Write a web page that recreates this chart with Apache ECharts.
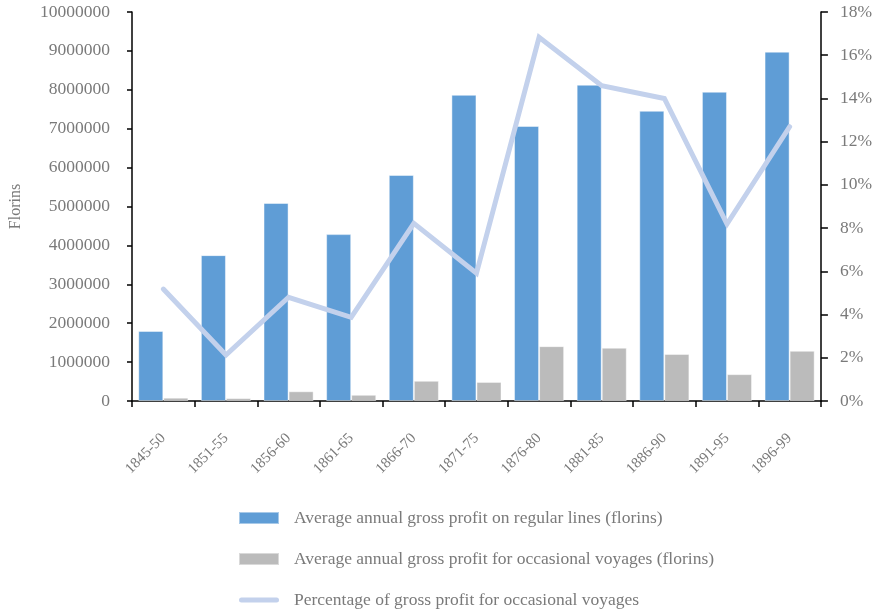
<!DOCTYPE html>
<html>
<head>
<meta charset="utf-8">
<script src="https://cdn.jsdelivr.net/npm/echarts@6/dist/echarts.min.js"></script>
<style>
  html, body { margin: 0; padding: 0; background: #fff; }
  #chart { width: 875px; height: 612px; }
</style>
</head>
<body>
<div id="chart"></div>
<script>
// Periods (five-year spans)
const periods = ['1845-50', '1851-55', '1856-60', '1861-65', '1866-70', '1871-75',
                 '1876-80', '1881-85', '1886-90', '1891-95', '1896-99'];

// Average annual gross profit on regular lines (florins)
const regularProfit = [1800000, 3750000, 5090000, 4290000, 5810000, 7870000,
                       7070000, 8130000, 7460000, 7950000, 8980000];

// Average annual gross profit for occasional voyages (florins)
const occasionalProfit = [85000, 75000, 250000, 160000, 520000, 490000,
                          1410000, 1370000, 1210000, 690000, 1290000];

// Share of gross profit from occasional voyages (%)
const occasionalShare = [5.18, 2.13, 4.80, 3.87, 8.22, 5.91,
                         16.83, 14.59, 14.00, 8.19, 12.69];

const leftTicks = { min: 0, max: 10000000, interval: 1000000 };
const rightTicks = { min: 0, max: 18, interval: 2 };

const FONT = '"Liberation Serif", serif';
const TEXT = '#7a7a7a';
const LINE_COLOR = '#c3d1ec';

// rounded stroke used as the legend key of the line series
const LINE_KEY = 'path://M2.5,0 L37.5,0 A2.5,2.5 0 0 1 37.5,5 L2.5,5 A2.5,2.5 0 0 1 2.5,0 Z';

const chart = echarts.init(document.getElementById('chart'), null, { renderer: 'canvas' });

chart.setOption({
  animation: false,
  backgroundColor: '#fff',
  textStyle: { fontFamily: FONT, color: TEXT },
  grid: { left: 130, right: 54, top: 12, bottom: 211, containLabel: false },
  legend: {
    type: 'plain',
    orient: 'vertical',
    left: 238,
    top: 509,
    padding: 0,
    itemWidth: 40,
    itemHeight: 12,
    itemGap: 23,
    symbolKeepAspect: true,
    textStyle: { fontFamily: FONT, fontSize: 17.5, color: TEXT, padding: [0, 0, 0, 10] },
    data: [
      { name: 'Average annual gross profit on regular lines (florins)', icon: 'rect' },
      { name: 'Average annual gross profit for occasional voyages (florins)', icon: 'rect' },
      {
        name: 'Percentage of gross profit for occasional voyages',
        icon: LINE_KEY,
        itemStyle: { color: LINE_COLOR }
      }
    ]
  },
  xAxis: {
    type: 'category',
    data: periods,
    axisLine: { lineStyle: { color: '#000', width: 1.5 } },
    axisTick: { show: true, length: 6, lineStyle: { color: '#000', width: 1.5 } },
    axisLabel: { rotate: 45, margin: 35, fontFamily: FONT, fontSize: 15, color: TEXT },
    splitLine: { show: false }
  },
  yAxis: [
    {
      type: 'value',
      min: leftTicks.min, max: leftTicks.max, interval: leftTicks.interval,
      name: 'Florins',
      nameLocation: 'middle',
      nameGap: 108,
      nameRotate: 90,
      nameTextStyle: { fontFamily: FONT, fontSize: 16, color: TEXT },
      axisLine: { show: true, lineStyle: { color: '#000', width: 1.5 } },
      axisTick: { show: true, length: 5, lineStyle: { color: '#000', width: 1.5 } },
      axisLabel: {
        margin: 22, fontFamily: FONT, fontSize: 17.5, color: TEXT,
        formatter: v => String(v)
      },
      splitLine: { show: false }
    },
    {
      type: 'value',
      min: rightTicks.min, max: rightTicks.max, interval: rightTicks.interval,
      position: 'right',
      axisLine: { show: true, lineStyle: { color: '#000', width: 1.5 } },
      axisTick: { show: true, length: 7, lineStyle: { color: '#000', width: 1.5 } },
      axisLabel: { margin: 19, fontFamily: FONT, fontSize: 17.5, color: TEXT, formatter: '{value}%' },
      splitLine: { show: false }
    }
  ],
  series: [
    {
      name: 'Average annual gross profit on regular lines (florins)',
      type: 'bar',
      data: regularProfit,
      barGap: '0%',
      barCategoryGap: '20%',
      itemStyle: { color: '#5f9dd6', borderColor: 'rgba(255,255,255,0.45)', borderWidth: 1 }
    },
    {
      name: 'Average annual gross profit for occasional voyages (florins)',
      type: 'bar',
      data: occasionalProfit,
      itemStyle: { color: '#bbbbbb', borderColor: 'rgba(255,255,255,0.45)', borderWidth: 1 }
    },
    {
      name: 'Percentage of gross profit for occasional voyages',
      type: 'line',
      yAxisIndex: 1,
      data: occasionalShare,
      symbol: 'none',
      lineStyle: { color: LINE_COLOR, width: 5, cap: 'round', join: 'miter' },
      itemStyle: { color: LINE_COLOR },
      z: 5
    }
  ]
});
</script>
</body>
</html>
